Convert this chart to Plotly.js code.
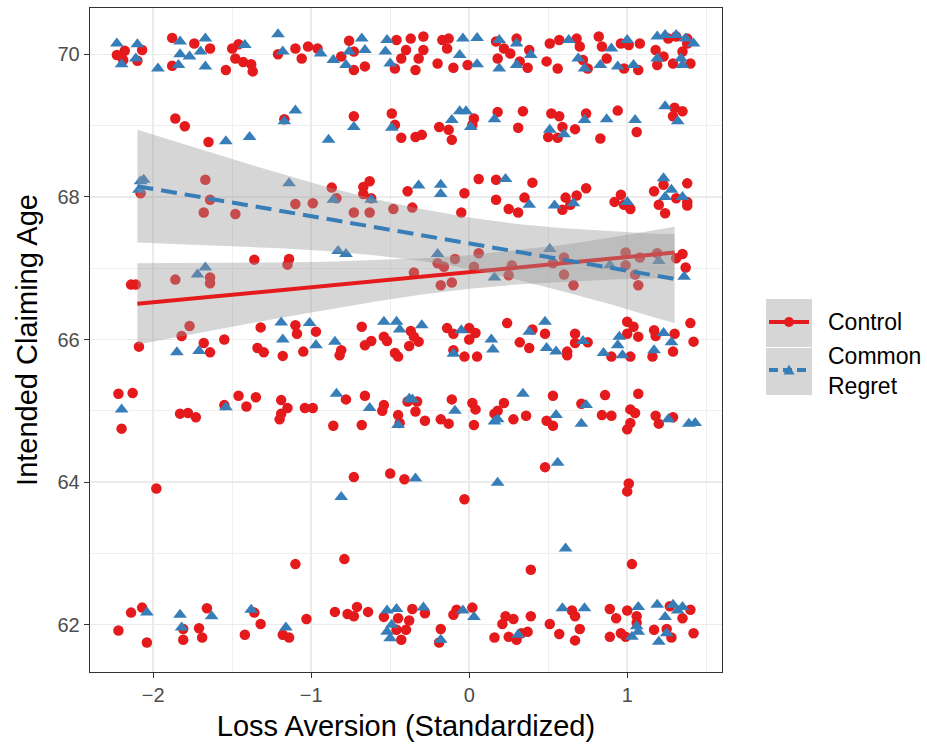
<!DOCTYPE html>
<html><head><meta charset="utf-8">
<script src="https://cdn.plot.ly/plotly-3.0.1.min.js"></script>
<style>html,body{margin:0;padding:0;background:#fff}#chart{width:927px;height:746px}</style>
</head><body><div id="chart"></div>
<script>
// ---- data ----
const seriesNames = ["Control", "Common<br>Regret"];

const controlPoints = [
[-2.23,69.99],[-2.18,70.05],[-2.19,69.92],[-2.10,69.91],[-2.07,70.06],[-1.88,70.23],[-1.88,69.84],[-1.74,70.15],[-1.64,70.08],[-1.54,69.78],[-1.50,70.08],[-1.46,70.14],[-1.48,69.94],[-1.43,69.89],[-1.38,69.86],[-1.37,69.76],[-1.21,70.00],[-1.10,70.08],[-1.06,69.94],[-1.02,70.11],[-0.96,70.08],[-0.81,69.97],[-0.76,70.19],[-0.73,70.04],[-0.73,69.78],[-0.66,69.83],[-0.46,70.20],[-0.37,70.22],[-0.40,70.06],[-0.43,69.94],[-0.47,69.80],[-0.34,69.78],
[-0.29,70.25],[-0.29,70.06],[-0.32,69.94],[-0.17,70.20],[-0.13,70.22],[-0.14,70.08],[-0.20,69.87],[-0.10,69.81],[-0.01,69.85],[0.17,70.18],[0.22,70.08],[0.18,69.94],[0.26,70.01],[0.30,70.22],[0.38,70.06],[0.37,69.81],[0.32,69.90],[0.51,70.15],[0.57,70.20],[0.49,69.90],[0.56,69.80],[0.68,70.22],[0.70,70.11],[0.72,69.92],[0.75,69.80],[0.82,70.25],[0.84,70.11],[0.87,69.94],[0.96,70.15],[1.01,70.13],[1.08,70.15],[0.98,69.80],[1.07,69.78],[1.18,70.06],[1.23,69.97],[1.26,70.22],[1.31,70.25],[1.38,70.22],[1.38,70.15],[1.35,70.04],[1.29,69.87],[1.40,69.87],[1.19,69.85],
[-1.86,69.10],[-1.80,68.99],[-1.65,68.77],[-1.17,69.09],[-0.73,69.13],[-0.49,69.17],[-0.47,69.01],[-0.43,68.83],[-0.34,68.84],[-0.30,68.87],[-0.19,68.98],[-0.13,68.94],[-0.11,68.80],[0.03,69.10],[0.02,69.01],[0.18,69.19],[0.34,69.20],[0.31,68.97],[0.52,69.17],[0.57,69.13],[0.59,68.98],[0.50,68.84],[0.56,68.83],[0.67,68.95],[0.74,69.17],[0.83,68.82],[0.94,69.21],[1.06,68.91],[1.30,69.25],[1.35,69.20],[1.29,69.13],
[-2.08,68.05],[-1.67,68.24],[-1.64,67.96],[-1.68,67.78],[-1.48,67.76],[-1.10,67.90],[-0.99,67.91],[-0.87,68.13],[-0.84,67.98],[-0.67,68.14],[-0.63,68.22],[-0.67,68.04],[-0.62,67.98],[-0.73,67.78],[-0.63,67.78],[-0.48,67.83],[-0.39,68.08],[-0.36,67.85],[-0.03,68.05],[-0.05,67.78],[0.06,68.25],[0.17,68.24],[0.17,67.96],[0.25,67.83],[0.31,67.78],[0.35,67.99],[0.40,68.20],[0.61,67.99],[0.64,67.89],[0.59,67.82],[0.68,68.02],[0.74,68.12],[0.92,67.93],[0.96,68.03],[0.98,67.89],[1.02,67.83],[1.17,68.08],[1.23,68.17],[1.20,67.89],[1.24,67.77],[1.31,67.98],[1.38,68.19],[1.38,67.93],[1.38,67.88],
[-2.14,66.77],[-2.11,66.77],[-1.86,66.84],[-1.64,66.87],[-1.64,66.79],[-1.36,67.12],[-1.14,67.13],[-1.15,67.05],[-0.35,66.94],[-0.20,67.07],[-0.16,67.02],[-0.09,67.13],[0.06,67.21],[0.03,67.02],[-0.18,66.76],[-0.11,66.80],[0.27,67.04],[0.25,66.90],[0.53,67.07],[0.60,67.15],[0.60,66.91],[0.66,66.76],[0.99,67.22],[0.99,67.04],[1.08,67.15],[1.05,66.91],[1.07,66.76],[1.19,67.21],[1.31,67.14],[1.35,67.20],[1.37,67.01],
[-2.09,65.90],[-1.77,66.19],[-1.82,66.05],[-1.68,65.95],[-1.64,65.82],[-1.55,66.00],[-1.32,66.17],[-1.34,65.88],[-1.30,65.82],[-1.18,65.77],[-1.10,66.20],[-1.09,66.08],[-1.05,65.83],[-0.97,66.11],[-0.81,65.85],[-0.82,65.78],[-0.68,66.18],[-0.66,65.92],[-0.62,65.98],[-0.54,66.04],[-0.52,65.98],[-0.47,65.81],[-0.45,65.76],[-0.37,66.12],[-0.35,66.04],[-0.38,65.91],[-0.32,65.97],[-0.14,66.16],[-0.10,66.08],[0.00,66.16],[0.04,66.09],[0.00,66.00],[-0.10,65.85],[-0.03,65.76],[0.05,65.76],[0.24,66.23],[0.32,65.96],[0.38,65.88],[0.40,66.14],[0.48,66.08],[0.62,65.83],[0.62,65.78],[0.67,66.08],[0.67,65.95],[0.75,65.96],[0.90,65.76],[1.00,66.25],[1.04,66.18],[1.00,66.08],[1.07,66.04],[1.02,65.76],[1.17,66.13],[1.18,66.05],[1.16,65.76],[1.30,66.08],[1.29,65.83],[1.40,66.23],[1.42,65.97],
[-2.22,65.24],[-2.13,65.25],[-2.20,64.75],[-1.83,64.96],[-1.78,64.97],[-1.73,64.91],[-1.55,65.08],[-1.46,65.21],[-1.35,65.19],[-1.41,65.06],[-1.19,65.15],[-1.15,65.04],[-1.19,64.96],[-1.20,64.88],[-1.04,65.04],[-0.99,65.04],[-0.86,64.79],[-0.78,65.16],[-0.66,65.21],[-0.68,64.80],[-0.54,65.08],[-0.55,65.00],[-0.45,64.94],[-0.44,64.83],[-0.39,65.13],[-0.33,65.13],[-0.34,64.99],[-0.28,64.86],[-0.18,64.88],[-0.13,64.82],[-0.11,65.16],[0.02,65.11],[0.04,65.02],[0.03,64.80],[0.22,65.11],[0.18,65.00],[0.16,64.96],[0.28,64.88],[0.36,64.93],[0.53,65.21],[0.49,64.86],[0.53,64.79],[0.71,65.10],[0.86,65.22],[0.84,64.94],[0.90,64.93],[1.07,65.24],[1.02,65.02],[1.05,64.97],[1.02,64.83],[1.00,64.74],[1.18,64.93],[1.20,64.82],[1.29,64.91],
[-1.98,63.91],[-0.73,64.07],[-0.50,64.12],[-0.41,64.04],[-0.03,63.76],[0.48,64.21],[1.01,63.98],[1.00,63.87],[-1.10,62.85],[-0.79,62.92],[0.39,62.77],[1.03,62.85],
[-2.22,61.92],[-2.14,62.17],[-2.07,62.24],[-2.04,61.75],[-1.81,61.79],[-1.81,61.94],[-1.71,61.95],[-1.69,61.82],[-1.66,62.23],[-1.42,61.86],[-1.36,62.17],[-1.32,62.01],[-1.18,61.86],[-1.14,61.82],[-1.03,62.08],[-0.85,62.18],[-0.77,62.15],[-0.73,62.12],[-0.71,62.25],[-0.64,62.18],[-0.54,62.11],[-0.45,62.09],[-0.36,62.22],[-0.38,62.06],[-0.40,61.93],[-0.46,61.93],[-0.43,61.79],[-0.28,62.16],[-0.18,61.94],[-0.19,61.75],[-0.10,62.14],[-0.08,62.21],[0.02,62.24],[0.16,61.82],[0.21,62.01],[0.23,62.12],[0.28,62.08],[0.25,61.83],[0.30,61.79],[0.33,61.88],[0.37,61.90],[0.39,62.12],[0.51,62.01],[0.57,61.87],[0.65,62.20],[0.67,62.12],[0.70,61.94],[0.67,61.78],[0.89,62.22],[0.93,62.09],[0.89,61.83],[0.96,61.88],[0.99,61.83],[1.00,62.20],[1.06,62.12],[1.06,62.03],[1.17,61.93],[1.25,61.94],[1.27,62.26],[1.28,61.82],[1.35,62.09],[1.40,62.21],[1.42,61.88]
];

const regretPoints = [
[-2.23,70.15],[-2.10,70.14],[-2.20,69.86],[-2.11,69.94],[-1.97,69.80],[-1.83,70.18],[-1.83,70.00],[-1.84,69.85],[-1.77,69.97],[-1.70,70.04],[-1.67,70.22],[-1.67,69.83],[-1.42,70.13],[-1.21,70.28],[-1.18,70.04],[-0.94,70.01],[-0.86,69.92],[-0.78,69.85],[-0.76,70.04],[-0.68,70.22],[-0.66,70.06],[-0.52,70.20],[-0.53,70.04],[-0.50,69.87],
[-0.04,70.22],[0.05,70.23],[-0.06,69.99],[0.05,69.86],[0.19,70.20],[0.30,70.15],[0.39,69.99],[0.19,69.80],[0.30,69.85],[0.63,70.20],[0.69,69.94],[0.73,69.80],[0.83,69.85],[0.90,70.08],[0.94,69.83],[1.00,70.20],[1.04,69.85],[1.19,70.25],[1.24,70.27],[1.31,70.27],[1.37,70.22],[1.42,70.15],[1.34,69.94],[1.35,69.85],[1.19,69.94],
[-1.54,68.78],[-1.39,68.84],[-1.17,69.06],[-1.10,69.21],[-0.89,68.80],[-0.73,68.98],[-0.49,68.97],[-0.11,69.08],[-0.06,69.20],[-0.02,69.20],[0.01,68.98],[0.16,69.09],[0.51,68.94],[0.60,68.88],[0.73,69.08],[0.87,69.09],[1.05,69.08],[1.24,69.27],[1.32,69.06],
[-2.08,68.22],[-2.06,68.24],[-2.09,68.10],[-1.14,68.19],[-0.86,67.96],[-0.62,67.96],[-0.32,68.16],[-0.18,68.17],[-0.18,68.04],[0.23,68.25],[0.38,67.89],[0.54,67.88],[0.66,67.91],[1.00,67.93],[1.23,68.26],[1.28,68.10],[1.24,68.00],[1.35,68.00],
[-1.72,66.91],[-1.67,67.01],[-0.83,67.24],[-0.78,67.20],[-0.20,67.20],[0.16,66.87],[0.51,67.27],[0.89,67.04],[1.20,67.10],[1.36,66.88],
[-1.85,65.82],[-1.71,65.84],[-1.19,66.24],[-1.18,66.00],[-1.01,66.23],[-0.97,65.92],[-0.85,65.97],[-0.54,66.25],[-0.46,66.25],[-0.44,66.14],[-0.30,66.20],[-0.05,66.13],[-0.10,65.80],[0.14,66.00],[0.15,65.86],[0.48,66.25],[0.38,66.11],[0.49,65.88],[0.55,65.83],[0.72,65.98],[0.85,65.81],[0.94,65.92],[0.95,66.04],[0.97,65.78],[1.17,65.85],[1.23,66.09],[1.28,65.96],
[-2.20,65.02],[-1.54,65.05],[-0.84,65.24],[-0.63,65.04],[-0.45,64.80],[-0.38,65.17],[-0.36,65.16],[-0.09,65.00],[0.16,64.85],[0.18,64.88],[0.34,65.24],[0.55,64.94],[0.71,64.82],[0.74,65.08],[1.26,64.88],[1.39,64.82],[1.43,64.83],
[-0.81,63.79],[-0.34,64.05],[0.18,63.99],[0.56,64.27],[0.61,63.07],
[-2.04,62.17],[-1.83,62.14],[-1.82,61.96],[-1.63,62.12],[-1.38,62.21],[-1.16,61.96],[-0.52,62.20],[-0.46,62.22],[-0.49,62.00],[-0.52,61.90],[-0.50,61.81],[-0.29,62.24],[-0.18,61.79],[-0.04,62.20],[0.03,62.11],[0.31,61.86],[0.59,62.23],[0.73,62.23],[1.07,62.25],[1.06,61.98],[1.07,61.90],[1.03,61.83],[1.19,62.28],[1.24,62.11],[1.20,61.76],[1.25,61.88],[1.29,62.28],[1.35,62.25],[1.32,62.20]
];

// fitted lines (end points) and confidence bands
const fitX = [-2.1, 1.3];
const controlFit = [66.50, 67.22];
const regretFit = [68.15, 66.85];

const bandX = [-2.1, -1.8, -1.5, -1.2, -0.9, -0.6, -0.3, 0.0, 0.3, 0.6, 0.9, 1.2, 1.3];
const controlLower = [65.93, 66.06, 66.18, 66.30, 66.42, 66.53, 66.63, 66.71, 66.77, 66.81, 66.84, 66.86, 66.86];
const controlUpper = [67.07, 67.07, 67.07, 67.08, 67.09, 67.11, 67.14, 67.18, 67.25, 67.33, 67.43, 67.54, 67.58];
const regretLower = [67.36, 67.34, 67.31, 67.28, 67.24, 67.18, 67.10, 66.99, 66.84, 66.67, 66.49, 66.29, 66.23];
const regretUpper = [68.94, 68.73, 68.53, 68.33, 68.14, 67.97, 67.83, 67.71, 67.62, 67.56, 67.52, 67.48, 67.48];

const xTicks = [-2, -1, 0, 1];
const yTicks = [62, 64, 66, 68, 70];

// ---- styling ----
const RED = '#E41A1C', BLUE = '#377EB8';
const BAND = 'rgba(153,153,153,0.4)';
const FONT = 'Liberation Sans, Arial, Helvetica, sans-serif';

function band(lo, hi) {
  return {
    x: bandX.concat(bandX.slice().reverse()),
    y: hi.concat(lo.slice().reverse()),
    type: 'scatter', mode: 'lines', fill: 'toself', fillcolor: BAND,
    line: {width: 0, color: 'rgba(0,0,0,0)'}, hoverinfo: 'skip', showlegend: false
  };
}

const traces = [
  {x: controlPoints.map(p => p[0]), y: controlPoints.map(p => p[1]), type: 'scatter', mode: 'markers',
   marker: {color: RED, size: 10.5, symbol: 'circle', line: {width: 0}}, name: 'Control', showlegend: false},
  {x: regretPoints.map(p => p[0]), y: regretPoints.map(p => p[1]), type: 'scatter', mode: 'markers',
   marker: {color: BLUE, size: 12, symbol: 'triangle-up', line: {width: 0}}, name: 'Common Regret', showlegend: false},
  band(controlLower, controlUpper),
  {x: fitX, y: controlFit, type: 'scatter', mode: 'lines', line: {color: RED, width: 4}, showlegend: false},
  band(regretLower, regretUpper),
  {x: fitX, y: regretFit, type: 'scatter', mode: 'lines', line: {color: BLUE, width: 4, dash: '16px,8px'}, showlegend: false}
];

// legend drawn in paper coordinates (plot area: 90..722 px wide, 8..672 px tall)
const L = 90, W = 632, B = 672, H = 664;
const px = v => (v - L) / W, py = v => (B - v) / H;

const shapes = [
  {type: 'rect', xref: 'paper', yref: 'paper', x0: px(766), x1: px(812), y0: py(347), y1: py(299), fillcolor: BAND, line: {width: 0}},
  {type: 'rect', xref: 'paper', yref: 'paper', x0: px(766), x1: px(812), y0: py(395), y1: py(348), fillcolor: BAND, line: {width: 0}},
  {type: 'line', xref: 'paper', yref: 'paper', x0: px(769), x1: px(809), y0: py(322), y1: py(322), line: {color: RED, width: 4}},
  {type: 'circle', xref: 'paper', yref: 'paper', x0: px(784), x1: px(794), y0: py(327), y1: py(317), fillcolor: RED, line: {width: 0}},
  {type: 'line', xref: 'paper', yref: 'paper', x0: px(769), x1: px(809), y0: py(370), y1: py(370), line: {color: BLUE, width: 4, dash: '9px,5px'}},
  {type: 'path', xref: 'paper', yref: 'paper',
   path: 'M' + px(783.5) + ',' + py(374.5) + ' L' + px(794.5) + ',' + py(374.5) + ' L' + px(789) + ',' + py(364.5) + ' Z',
   fillcolor: BLUE, line: {width: 0}}
];

const annotations = [
  {xref: 'paper', yref: 'paper', x: px(826), y: py(322), xanchor: 'left', yanchor: 'middle', showarrow: false,
   text: seriesNames[0], font: {family: FONT, size: 23, color: '#000'}},
  {xref: 'paper', yref: 'paper', x: px(826), y: py(371), xanchor: 'left', yanchor: 'middle', showarrow: false,
   text: seriesNames[1], align: 'left', font: {family: FONT, size: 23, color: '#000'}}
];

const axisCommon = {
  showgrid: true, gridcolor: '#ebebeb', gridwidth: 1.5, zeroline: false,
  showline: true, mirror: true, linecolor: '#333333', linewidth: 1.3,
  ticks: 'outside', ticklen: 5, tickwidth: 1.2, tickcolor: '#333333',
  tickfont: {family: FONT, size: 20, color: '#4d4d4d'}, automargin: false
};

const layout = {
  width: 927, height: 746,
  margin: {l: 90, r: 205, t: 8, b: 74},
  paper_bgcolor: '#fff', plot_bgcolor: '#fff',
  font: {family: FONT},
  showlegend: false,
  xaxis: Object.assign({}, axisCommon, {
    range: [-2.40, 1.60], tickvals: xTicks,
    minor: {dtick: 0.5, tick0: 0, showgrid: true, gridcolor: '#ebebeb', gridwidth: 0.8},
    title: {text: 'Loss Aversion (Standardized)', font: {family: FONT, size: 29, color: '#000'}, standoff: 10}
  }),
  yaxis: Object.assign({}, axisCommon, {
    range: [61.337, 70.649], tickvals: yTicks,
    minor: {dtick: 1, tick0: 62, showgrid: true, gridcolor: '#ebebeb', gridwidth: 0.8},
    title: {text: 'Intended Claiming Age', font: {family: FONT, size: 29, color: '#000'}, standoff: 11}
  }),
  shapes: shapes,
  annotations: annotations
};

Plotly.newPlot('chart', traces, layout, {displayModeBar: false, staticPlot: true});
</script>
</body></html>
